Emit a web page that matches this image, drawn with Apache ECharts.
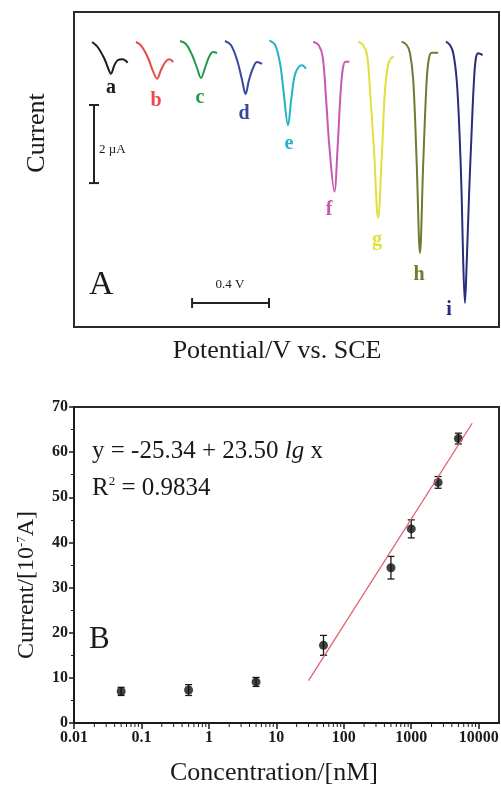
<!DOCTYPE html>
<html>
<head>
<meta charset="utf-8">
<title>Peaks and calibration</title>
<script src="https://cdn.jsdelivr.net/npm/echarts@6/dist/echarts.min.js"></script>
<style>
    html, body { margin: 0; padding: 0; background: #fff; }
    #main { width: 501px; height: 786px; }
</style>
</head>
<body>
<div id="main"></div>
<script>
// panel A: stripping peaks, potential (V) vs current (uA), traces offset as drawn
var peakNames = ['a', 'b', 'c', 'd', 'e', 'f', 'g', 'h', 'i'];
var peakA = [[0.094, -0.768], [0.123, -0.896], [0.158, -1.196], [0.175, -1.408], [0.192, -1.580], [0.210, -1.364], [0.227, -1.236], [0.253, -1.211], [0.279, -1.298]];
var peakB = [[0.322, -0.768], [0.348, -0.852], [0.383, -1.152], [0.409, -1.492], [0.432, -1.708], [0.452, -1.492], [0.475, -1.280], [0.496, -1.211], [0.516, -1.280]];
var peakC = [[0.551, -0.742], [0.582, -0.819], [0.614, -1.101], [0.640, -1.434], [0.660, -1.690], [0.681, -1.434], [0.702, -1.152], [0.723, -1.024], [0.744, -1.050]];
var peakD = [[0.785, -0.742], [0.816, -0.845], [0.848, -1.229], [0.874, -1.741], [0.892, -2.099], [0.910, -1.741], [0.931, -1.434], [0.952, -1.280], [0.978, -1.331]];
var peakE = [[1.016, -0.724], [1.047, -0.852], [1.073, -1.364], [1.090, -2.048], [1.113, -2.900], [1.130, -2.220], [1.148, -1.620], [1.168, -1.408], [1.186, -1.364], [1.206, -1.452]];
var peakF = [[1.244, -0.760], [1.272, -0.845], [1.293, -1.144], [1.310, -2.168], [1.328, -3.448], [1.354, -4.600], [1.371, -3.448], [1.385, -2.168], [1.397, -1.485], [1.411, -1.272], [1.432, -1.272]];
var peakG = [[1.477, -0.760], [1.503, -0.845], [1.524, -1.101], [1.539, -1.997], [1.560, -3.533], [1.581, -5.274], [1.602, -3.533], [1.617, -1.997], [1.633, -1.357], [1.648, -1.178], [1.664, -1.152]];
var peakH = [[1.704, -0.760], [1.730, -0.845], [1.747, -1.050], [1.764, -1.741], [1.782, -3.866], [1.799, -6.170], [1.816, -3.866], [1.834, -1.741], [1.846, -1.178], [1.860, -1.042], [1.894, -1.042]];
var peakI = [[1.934, -0.760], [1.955, -0.845], [1.972, -1.050], [1.990, -1.741], [2.004, -3.021], [2.016, -4.728], [2.024, -6.426], [2.033, -7.450], [2.042, -6.426], [2.054, -4.728], [2.068, -3.021], [2.080, -1.741], [2.090, -1.178], [2.102, -1.057], [2.125, -1.101]];

// scale bars: [x, y from, y to] for 2 uA, [y, x from, x to] for 0.4 V
var scaleCurrent = [0.104, -4.38, -2.38];
var scalePotential = [-7.45, 0.614, 1.014];

// panel B: calibration
var conc = [0.05, 0.5, 5, 50, 500, 1000, 2500, 5000];
var current = [7.0, 7.3, 9.1, 17.2, 34.4, 43.0, 53.3, 63.0];
var currentErr = [0.9, 1.2, 1.0, 2.2, 2.5, 2.0, 1.3, 1.2];
var fitConc = [30, 8000];
var fitCurrent = [9.4, 66.4];
var xTickLabels = ['0.01', '0.1', '1', '10', '100', '1000', '10000'];


var peaks = [peakA, peakB, peakC, peakD, peakE, peakF, peakG, peakH, peakI];
var peakColors = ['#1c1c1c', '#e84a45', '#239a4a', '#3848a0', '#22b2c4', '#c85aae', '#e0e03c', '#6e7c33', '#2a2c7c'];
var labelPos = [[111, 87.5], [156, 101], [200, 97.5], [244, 114], [289, 143.5], [329, 210], [377, 239.5], [419, 275], [449, 310]];
var serif = '"Liberation Serif", "Times New Roman", serif';

// log minor ticks 2..9 in each decade of the x axis
var xMinor = [];
for (var d = -2; d < 4; d++) {
    for (var m = 2; m < 10; m++) {
        xMinor.push([+(m * Math.pow(10, d)).toPrecision(3), 0]);
    }
}

var myChart = echarts.init(document.getElementById('main'));

function errorBarItem(params, api) {
    var x = api.value(0);
    var lo = api.coord([x, api.value(1)]);
    var hi = api.coord([x, api.value(2)]);
    var w = 3.5;
    var st = { stroke: '#1a1a1a', lineWidth: 1.3 };
    return {
        type: 'group',
        children: [
            { type: 'line', shape: { x1: lo[0], y1: lo[1], x2: hi[0], y2: hi[1] }, style: st },
            { type: 'line', shape: { x1: lo[0] - w, y1: lo[1], x2: lo[0] + w, y2: lo[1] }, style: st },
            { type: 'line', shape: { x1: hi[0] - w, y1: hi[1], x2: hi[0] + w, y2: hi[1] }, style: st }
        ]
    };
}

function minorTickItem(params, api) {
    var p = api.coord([api.value(0), api.value(1)]);
    return {
        type: 'line',
        shape: { x1: p[0], y1: p[1] + 1, x2: p[0], y2: p[1] + 4 },
        style: { stroke: '#1a1a1a', lineWidth: 1 }
    };
}

function hBarItem(params, api) {
    var y = api.value(0);
    var p1 = api.coord([api.value(1), y]);
    var p2 = api.coord([api.value(2), y]);
    var h = 5;
    var st = { stroke: '#222', lineWidth: 2 };
    return {
        type: 'group',
        children: [
            { type: 'line', shape: { x1: p1[0], y1: p1[1], x2: p2[0], y2: p2[1] }, style: st },
            { type: 'line', shape: { x1: p1[0], y1: p1[1] - h, x2: p1[0], y2: p1[1] + h }, style: st },
            { type: 'line', shape: { x1: p2[0], y1: p2[1] - h, x2: p2[0], y2: p2[1] + h }, style: st }
        ]
    };
}

function vBarItem(params, api) {
    var x = api.value(0);
    var p1 = api.coord([x, api.value(1)]);
    var p2 = api.coord([x, api.value(2)]);
    var w = 5;
    var st = { stroke: '#222', lineWidth: 2 };
    return {
        type: 'group',
        children: [
            { type: 'line', shape: { x1: p1[0], y1: p1[1], x2: p2[0], y2: p2[1] }, style: st },
            { type: 'line', shape: { x1: p1[0] - w, y1: p1[1], x2: p1[0] + w, y2: p1[1] }, style: st },
            { type: 'line', shape: { x1: p2[0] - w, y1: p2[1], x2: p2[0] + w, y2: p2[1] }, style: st }
        ]
    };
}

var series = [];
for (var i = 0; i < peaks.length; i++) {
    series.push({
        name: peakNames[i],
        type: 'line',
        xAxisIndex: 0,
        yAxisIndex: 0,
        data: peaks[i],
        symbol: 'none',
        smooth: 0.35,
        lineStyle: { color: peakColors[i], width: 2 },
        silent: true
    });
}
series.push({
    type: 'custom', xAxisIndex: 0, yAxisIndex: 0, silent: true,
    renderItem: vBarItem, data: [scaleCurrent]
});
series.push({
    type: 'custom', xAxisIndex: 0, yAxisIndex: 0, silent: true,
    renderItem: hBarItem, data: [scalePotential]
});

// panel B
series.push({
    type: 'custom', xAxisIndex: 1, yAxisIndex: 1, silent: true, clip: false,
    renderItem: minorTickItem, data: xMinor
});
series.push({
    name: 'fit',
    type: 'line',
    xAxisIndex: 1,
    yAxisIndex: 1,
    symbol: 'none',
    data: fitConc.map(function (c, k) { return [c, fitCurrent[k]]; }),
    lineStyle: { color: '#e2606e', width: 1.3 },
    silent: true
});
series.push({
    type: 'custom', xAxisIndex: 1, yAxisIndex: 1, silent: true,
    renderItem: errorBarItem,
    data: conc.map(function (c, k) { return [c, current[k] - currentErr[k], current[k] + currentErr[k]]; })
});
series.push({
    name: 'current',
    type: 'scatter',
    xAxisIndex: 1,
    yAxisIndex: 1,
    symbol: 'circle',
    symbolSize: 9,
    itemStyle: { color: '#111' },
    data: conc.map(function (c, k) { return [c, current[k]]; }),
    silent: true
});

var graphics = [];
for (var j = 0; j < peakNames.length; j++) {
    graphics.push({
        type: 'text', x: labelPos[j][0], y: labelPos[j][1],
        style: {
            text: peakNames[j], fill: peakColors[j],
            font: 'bold 20px ' + serif,
            textAlign: 'center', textVerticalAlign: 'middle', align: 'center', verticalAlign: 'middle'
        }
    });
}
function txt(x, y, text, font, align, rot) {
    return {
        type: 'text', x: x, y: y, rotation: rot || 0,
        style: {
            text: text, fill: '#1a1a1a', font: font,
            textAlign: align, textVerticalAlign: 'middle', align: align, verticalAlign: 'middle'
        }
    };
}
graphics.push(txt(37, 133, 'Current', '26px ' + serif, 'center', Math.PI / 2));
graphics.push(txt(277, 351, 'Potential/V vs. SCE', '26px ' + serif, 'center'));
graphics.push(txt(89, 285, 'A', '34px ' + serif, 'left'));
graphics.push(txt(99, 150, '2 \u00b5A', '13px ' + serif, 'left'));
graphics.push(txt(230, 285, '0.4 V', '13px ' + serif, 'center'));
graphics.push(txt(89, 640, 'B', '31px ' + serif, 'left'));
graphics.push(txt(274, 773, 'Concentration/[nM]', '26px ' + serif, 'center'));

var richM = { fontSize: 25, fontFamily: serif, fill: '#1a1a1a' };
graphics.push({
    type: 'text', x: 27, y: 585, rotation: Math.PI / 2,
    style: {
        text: '{m|Current/[10}{s|-7}{m|A]}', fill: '#1a1a1a',
        textAlign: 'center', textVerticalAlign: 'middle', align: 'center', verticalAlign: 'middle',
        rich: { m: { fontSize: 24, fontFamily: serif, fill: '#1a1a1a' }, s: { fontSize: 13, fontFamily: serif, fill: '#1a1a1a', verticalAlign: 'top' } }
    }
});
graphics.push({
    type: 'text', x: 92, y: 451,
    style: {
        text: '{m|y = -25.34 + 23.50 }{i|lg}{m| x}', fill: '#1a1a1a',
        textAlign: 'left', textVerticalAlign: 'middle', align: 'left', verticalAlign: 'middle',
        rich: { m: richM, i: { fontSize: 25, fontFamily: serif, fontStyle: 'italic', fill: '#1a1a1a' } }
    }
});
graphics.push({
    type: 'text', x: 92, y: 488,
    style: {
        text: '{m|R}{s|2}{m| = 0.9834}', fill: '#1a1a1a',
        textAlign: 'left', textVerticalAlign: 'middle', align: 'left', verticalAlign: 'middle',
        rich: { m: richM, s: { fontSize: 13, fontFamily: serif, fill: '#1a1a1a', verticalAlign: 'top' } }
    }
});

var option = {
    animation: false,
    backgroundColor: '#fff',
    grid: [
        { left: 74, top: 12, width: 425, height: 315, show: true, borderColor: '#2a2a2a', borderWidth: 2, outerBoundsMode: 'none', containLabel: false },
        { left: 74, top: 407, width: 425, height: 316, show: true, borderColor: '#2a2a2a', borderWidth: 2, outerBoundsMode: 'none', containLabel: false }
    ],
    xAxis: [
        { type: 'value', gridIndex: 0, min: 0, max: 2.21, show: false },
        {
            type: 'log', gridIndex: 1, logBase: 10, min: 0.01, max: 20000,
            axisLine: { lineStyle: { color: '#1a1a1a', width: 2 } },
            axisTick: { inside: false, length: 6, lineStyle: { color: '#1a1a1a', width: 1.5 } },
            minorTick: { show: false },
            splitLine: { show: false },
            axisLabel: {
                margin: 7, color: '#1a1a1a', fontFamily: serif, fontWeight: 'bold', fontSize: 16,
                showMaxLabel: false,
                formatter: function (v) {
                    var k = Math.round(Math.log(v) / Math.LN10) + 2;
                    return xTickLabels[k] || '';
                }
            }
        }
    ],
    yAxis: [
        { type: 'value', gridIndex: 0, min: -8.064, max: 0, show: false },
        {
            type: 'value', gridIndex: 1, min: 0, max: 70, interval: 10,
            axisLine: { show: true, lineStyle: { color: '#1a1a1a', width: 2 } },
            axisTick: { show: true, inside: false, length: 5, lineStyle: { color: '#1a1a1a', width: 1.5 } },
            minorTick: { show: true, splitNumber: 2, length: 3, lineStyle: { color: '#1a1a1a', width: 1 } },
            splitLine: { show: false },
            axisLabel: { margin: 6, color: '#1a1a1a', fontFamily: serif, fontWeight: 'bold', fontSize: 16 }
        }
    ],
    graphic: graphics,
    series: series
};

myChart.setOption(option);
</script>
</body>
</html>
